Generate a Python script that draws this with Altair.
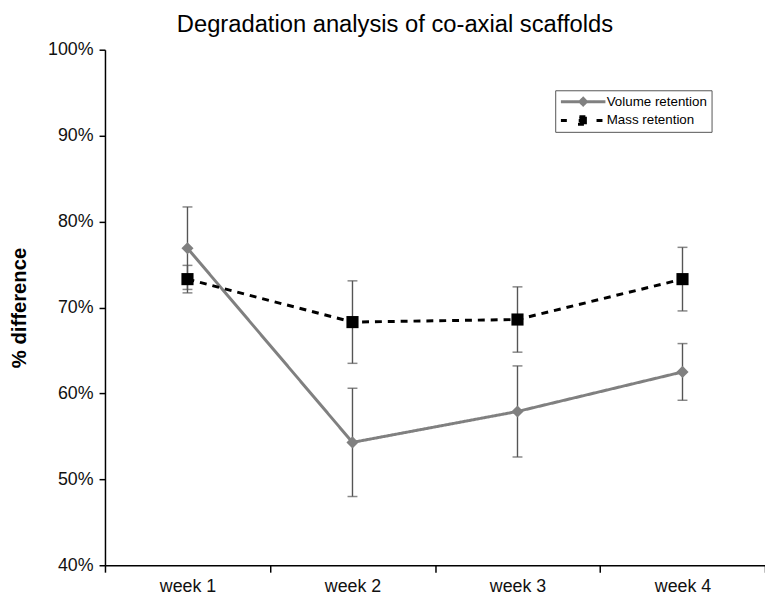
import altair as alt
import pandas as pd

chart_title = "Degradation analysis of co-axial scaffolds"
weeks = ["week 1", "week 2", "week 3", "week 4"]
series_names = ["Volume retention", "Mass retention"]
volume = [76.9, 54.3, 57.9, 62.5]
volume_err = [4.8, 6.3, 5.3, 3.3]
mass = [73.3, 68.3, 68.6, 73.3]
mass_err = [1.6, 4.8, 3.8, 3.7]

rows = []
for s, vals, errs in [(series_names[0], volume, volume_err), (series_names[1], mass, mass_err)]:
    for w, v, e in zip(weeks, vals, errs):
        rows.append({"series": s, "week": w, "value": v, "lo": v - e, "hi": v + e})
df = pd.DataFrame(rows)

FONT = "Liberation Sans"

x_enc = alt.X("week:N", sort=weeks, title=None,
              scale=alt.Scale(paddingInner=0, paddingOuter=0),
              axis=alt.Axis(labelAngle=0, tickBand="extent", tickSize=7, tickWidth=1.5,
                            domainWidth=1.5, domainColor="#000", tickColor="#000",
                            labelFontSize=18, labelColor="#111", labelFont=FONT,
                            labelPadding=6, grid=False))
y_scale = alt.Scale(domain=[40, 100], nice=False, zero=False)
y_axis = alt.Axis(values=[40, 50, 60, 70, 80, 90, 100], labelExpr="datum.value + '%'",
                  tickSize=6, tickWidth=1.5, domainWidth=1.5, domainColor="#000",
                  tickColor="#000", labelFontSize=18, labelColor="#111", labelFont=FONT,
                  labelPadding=6, grid=False, title="% difference", titleFontSize=20.5,
                  titleFont=FONT, titleFontWeight="bold", titleColor="#000", titlePadding=18)

vol_path = "M-4.5,0H4.5M0,-0.65L0.65,0L0,0.65L-0.65,0Z"
mass_path = "M-4.5,0H4.5M-0.75,-0.75H0.75V0.75H-0.75Z"
leg = alt.Legend(
    title=None, orient="none", legendX=455, legendY=41, direction="vertical",
    strokeColor="#555", fillColor="#fff", padding=4, symbolSize=100, clipHeight=15,
    symbolOffset=17.5, labelOffset=17, labelFontSize=13.5, labelFont=FONT, labelColor="#000",
    rowPadding=4, symbolStrokeWidth=3, symbolOpacity=1,
)
color_scale = alt.Scale(domain=series_names, range=["#808080", "#000000"])

base = alt.Chart(df)

err_rule = base.mark_rule(color="#555", strokeWidth=1.4).encode(
    x=x_enc, y=alt.Y("lo:Q", scale=y_scale, axis=y_axis), y2="hi:Q")
err_lo = base.mark_tick(color="#555", thickness=1.5, size=10).encode(
    x=x_enc, y=alt.Y("lo:Q", scale=y_scale, axis=y_axis))
err_hi = base.mark_tick(color="#555", thickness=1.5, size=10).encode(
    x=x_enc, y=alt.Y("hi:Q", scale=y_scale, axis=y_axis))

lines = base.mark_line(strokeWidth=3).encode(
    x=x_enc, y=alt.Y("value:Q", scale=y_scale, axis=y_axis),
    color=alt.Color("series:N", scale=color_scale, legend=None, sort=series_names),
    strokeDash=alt.StrokeDash("series:N", sort=series_names,
                              scale=alt.Scale(domain=series_names, range=[[1, 0], [7, 6]]),
                              legend=None),
    detail="series:N",
)
points = base.mark_point(filled=True, size=150, opacity=1).encode(
    x=x_enc, y=alt.Y("value:Q", scale=y_scale, axis=y_axis),
    color=alt.Color("series:N", scale=color_scale, legend=None, sort=series_names),
    shape=alt.Shape("series:N", sort=series_names,
                    scale=alt.Scale(domain=series_names, range=["diamond", "square"]),
                    legend=None),
)

# legend-only layer: its y values are null, so it draws no marks
legend_layer = base.transform_calculate(ghost="null").mark_point(
    filled=False, strokeWidth=3, opacity=1).encode(
    x=x_enc, y=alt.Y("ghost:Q", scale=y_scale, axis=y_axis),
    shape=alt.Shape("series:N", sort=series_names,
                    scale=alt.Scale(domain=series_names, range=[vol_path, mass_path]),
                    legend=leg),
    fill=alt.Fill("series:N", sort=series_names, scale=color_scale, legend=leg),
    stroke=alt.Stroke("series:N", sort=series_names, scale=color_scale, legend=leg),
    strokeDash=alt.StrokeDash("series:N", sort=series_names,
                              scale=alt.Scale(domain=series_names, range=[[1, 0], [6, 12]]),
                              legend=leg),
)

# chart title as a text layer placed above the plot area
title_layer = alt.Chart(pd.DataFrame({"t": [chart_title]})).mark_text(
    fontSize=24, font=FONT, color="#000", align="center", baseline="alphabetic"
).encode(text="t:N", x=alt.value(293), y=alt.value(-18))

chart = alt.layer(err_rule, err_lo, err_hi, lines, points, legend_layer, title_layer).resolve_scale(
    shape="independent", strokeDash="independent", fill="independent", stroke="independent"
).resolve_legend(
    shape="independent", strokeDash="independent", fill="independent", stroke="independent"
).properties(
    width=667, height=521,
    background="white",
    autosize=alt.AutoSizeParams(type="none"),
    padding={"left": 98, "top": 39, "right": 0, "bottom": 36},
).configure_view(stroke=None).configure_axis(grid=False)

chart.save("out.html", embed_options={"renderer": "svg", "actions": False})
